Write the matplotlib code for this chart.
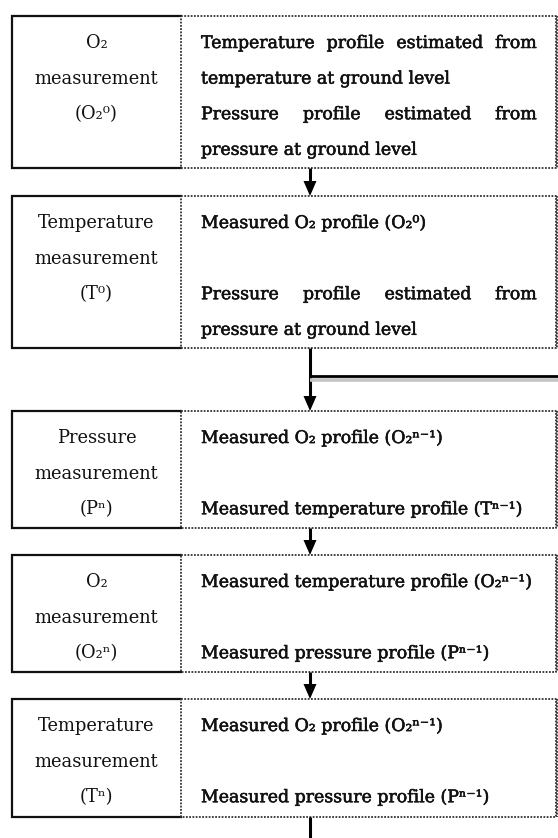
import matplotlib
matplotlib.use('Agg')
import matplotlib.pyplot as plt
from matplotlib.patches import Polygon
import matplotlib.patheffects as pe

W, H = 558, 838
fig = plt.figure(figsize=(W / 100, H / 100), dpi=100)
ax = fig.add_axes([0, 0, 1, 1])
ax.set_xlim(0, W)
ax.set_ylim(H, 0)
ax.axis('off')

# ---- content ----
left_labels = [
    ["O₂", "measurement", "(O₂⁰)"],
    ["Temperature", "measurement", "(T⁰)"],
    ["Pressure", "measurement", "(Pⁿ)"],
    ["O₂", "measurement", "(O₂ⁿ)"],
    ["Temperature", "measurement", "(Tⁿ)"],
]
right_texts = [
    ["Temperature profile estimated from", "temperature at ground level",
     "Pressure profile estimated from", "pressure at ground level"],
    ["Measured O₂ profile (O₂⁰)", "Pressure profile estimated from",
     "pressure at ground level"],
    ["Measured O₂ profile (O₂ⁿ⁻¹)", "Measured temperature profile (Tⁿ⁻¹)"],
    ["Measured temperature profile (O₂ⁿ⁻¹)", "Measured pressure profile (Pⁿ⁻¹)"],
    ["Measured O₂ profile (O₂ⁿ⁻¹)", "Measured pressure profile (Pⁿ⁻¹)"],
]
right_rows = [[0, 1, 2, 3], [0, 2, 3], [0, 2], [0, 2], [0, 2]]
right_justify = [[True, False, True, False], [False, True, False],
                 [False, False], [False, False], [False, False]]

# ---- layout ----
box_top = [16, 196, 411, 555, 699]
box_bot = [168, 348, 528, 672, 817]
xl, xm, xr = 12, 181, 556
xarrow = 310
row_h = 35.6
first_off = 26
base_off = 6
txt_x0, txt_x1 = 201, 537

renderer = fig.canvas.get_renderer()
FAM = ['DejaVu Serif', 'DejaVu Sans']


def width_px(s, **kw):
    t = ax.text(0, 0, s, **kw)
    w = t.get_window_extent(renderer).width
    t.remove()
    return w


ls = 12 * 124 / width_px("measurement", family=FAM, fontsize=12)
rs = 12 * 248 / width_px("temperature at ground level", family=FAM,
                         fontsize=12)
lkw = dict(family=FAM, fontsize=ls, color='#111111')
rkw = dict(family=FAM, fontsize=rs, color='#111111',
           path_effects=[pe.withStroke(linewidth=0.4, foreground='#111111')])

dot = (0, (1, 0.8))
for i in range(5):
    t, b = box_top[i], box_bot[i]
    # left solid box (left, top, bottom)
    ax.plot([xm, xl, xl, xm], [t, t, b, b], color='#111111', lw=1.6,
            solid_joinstyle='miter')
    # right dotted box
    ax.plot([xm, xr, xr, xm, xm], [t, t, b, b, t], color='#333333', lw=1.3,
            linestyle=dot)
    ax.plot([xr + 1, xr + 1], [t, b], color='#333333', lw=1.3, linestyle=dot)
    # left labels
    cx = (xl + xm) / 2
    for j, s in enumerate(left_labels[i]):
        y = t + first_off + j * row_h + base_off
        ax.text(cx, y, s, ha='center', va='baseline', **lkw)
    # right texts
    for s, r, jf in zip(right_texts[i], right_rows[i], right_justify[i]):
        y = t + first_off + r * row_h + base_off
        if jf:
            words = s.split()
            ws = [width_px(w, **rkw) for w in words]
            gap = (txt_x1 - txt_x0 - sum(ws)) / (len(words) - 1)
            x = txt_x0
            for w, wd in zip(words, ws):
                ax.text(x, y, w, ha='left', va='baseline', **rkw)
                x += wd + gap
        else:
            ax.text(txt_x0, y, s, ha='left', va='baseline', **rkw)


def arrow(y0, y1):
    ax.plot([xarrow, xarrow], [y0, y1 - 12], color='black', lw=2.2,
            solid_capstyle='butt')
    ax.add_patch(Polygon([[xarrow - 6.5, y1 - 15], [xarrow + 6.5, y1 - 15],
                          [xarrow, y1]], closed=True, color='black', lw=0))


arrow(box_bot[0], box_top[1])
arrow(box_bot[1], box_top[2])
arrow(box_bot[2], box_top[3])
arrow(box_bot[3], box_top[4])
ax.plot([xarrow, xarrow], [box_bot[4], H], color='black', lw=2.2,
        solid_capstyle='butt')

# loop-back connector with shadow
ax.plot([xarrow, W], [380, 380], color='#c4c4c4', lw=2.6, solid_capstyle='butt')
ax.plot([xarrow - 1, W], [376, 376], color='black', lw=2.0, solid_capstyle='butt')

fig.savefig('out.png', dpi=100, facecolor='white')
